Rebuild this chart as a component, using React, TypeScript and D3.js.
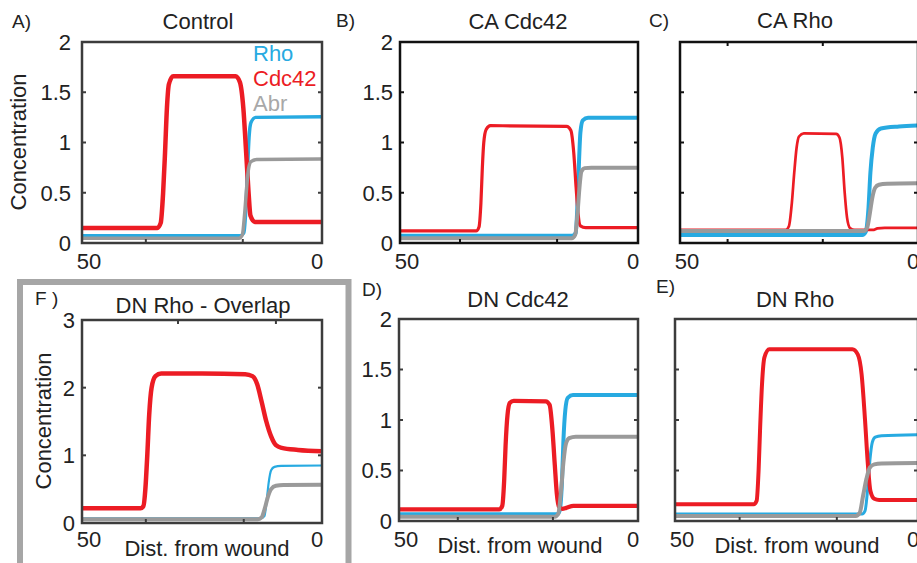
import React from 'react';
import * as d3 from 'd3';

const width = 917;
const height = 563;
const blue = '#27aae1';
const red = '#ec1c24';
const gray = '#9a9a9a';
const font = '"Liberation Sans", Arial, Helvetica, sans-serif';
const fs = 22;

type Pt = [number, number];

// Control
const rhoA: Pt[] = [[50, 0.073], [17.0, 0.073], [16.3, 0.1], [15.8, 0.4], [15.5, 0.75], [15.2, 1.05], [14.8, 1.2], [13.8, 1.25], [0, 1.255]];
const cdc42A: Pt[] = [[50, 0.15], [34.3, 0.15], [33.6, 0.2], [33.1, 0.5], [32.7, 0.9], [32.3, 1.35], [31.9, 1.58], [31.0, 1.66], [18.0, 1.66], [17.1, 1.6], [16.4, 1.35], [15.8, 0.9], [15.3, 0.5], [14.9, 0.27], [14.0, 0.21], [0, 0.21]];
const abrA: Pt[] = [[50, 0.047], [17.3, 0.047], [16.6, 0.08], [16.1, 0.3], [15.7, 0.55], [15.3, 0.74], [14.8, 0.81], [13.6, 0.83], [0, 0.835]];

// CA Cdc42
const rhoB: Pt[] = [[50, 0.073], [13.8, 0.073], [13.1, 0.1], [12.7, 0.4], [12.4, 0.8], [12.1, 1.1], [11.6, 1.22], [10.5, 1.247], [0, 1.247]];
const cdc42B: Pt[] = [[50, 0.12], [34.0, 0.12], [33.4, 0.16], [33.0, 0.4], [32.7, 0.75], [32.4, 1.0], [31.9, 1.13], [31.0, 1.167], [15.0, 1.16], [14.1, 1.12], [13.5, 0.9], [13.0, 0.55], [12.6, 0.3], [12.1, 0.17], [11.0, 0.152], [0, 0.152]];
const abrB: Pt[] = [[50, 0.047], [13.9, 0.047], [13.2, 0.08], [12.7, 0.3], [12.3, 0.55], [11.9, 0.71], [11.2, 0.745], [9.8, 0.75], [0, 0.75]];

// CA Rho
const rhoC: Pt[] = [[50, 0.08], [11.7, 0.08], [11.0, 0.11], [10.4, 0.35], [10.0, 0.7], [9.5, 0.95], [8.9, 1.09], [7.8, 1.14], [4, 1.16], [0, 1.17]];
const cdc42C: Pt[] = [[50, 0.13], [27.8, 0.13], [27.1, 0.17], [26.5, 0.4], [26.0, 0.7], [25.5, 0.95], [25.0, 1.06], [24.0, 1.09], [17.2, 1.085], [16.5, 1.05], [15.9, 0.85], [15.4, 0.5], [14.9, 0.25], [14.3, 0.15], [13.3, 0.13], [9.5, 0.13], [8.5, 0.145], [7, 0.15], [0, 0.15]];
const abrC: Pt[] = [[50, 0.12], [11.4, 0.12], [10.7, 0.15], [10.1, 0.3], [9.6, 0.45], [9.0, 0.55], [8.2, 0.58], [6.5, 0.59], [0, 0.595]];

// DN Cdc42
const rhoD: Pt[] = [[50, 0.066], [17.0, 0.066], [16.4, 0.1], [15.9, 0.4], [15.6, 0.8], [15.2, 1.1], [14.7, 1.22], [13.6, 1.247], [0, 1.247]];
const cdc42D: Pt[] = [[50, 0.116], [29.0, 0.116], [28.4, 0.15], [28.0, 0.4], [27.7, 0.75], [27.3, 1.05], [26.8, 1.17], [26.0, 1.19], [19.3, 1.185], [18.5, 1.15], [17.9, 0.9], [17.4, 0.55], [17.0, 0.28], [16.5, 0.14], [15.8, 0.12], [15.0, 0.13], [13.5, 0.149], [0, 0.149]];
const abrD: Pt[] = [[50, 0.043], [17.4, 0.043], [16.7, 0.07], [16.1, 0.3], [15.6, 0.58], [15.1, 0.76], [14.4, 0.82], [13.0, 0.835], [0, 0.835]];

// DN Rho
const rhoE: Pt[] = [[50, 0.07], [11.5, 0.07], [10.9, 0.1], [10.3, 0.35], [9.9, 0.6], [9.4, 0.78], [8.8, 0.83], [7.5, 0.845], [0, 0.855]];
const cdc42E: Pt[] = [[50, 0.165], [33.8, 0.165], [33.2, 0.2], [32.8, 0.5], [32.5, 0.9], [32.1, 1.35], [31.6, 1.62], [30.6, 1.7], [13.5, 1.7], [12.4, 1.65], [11.6, 1.45], [10.9, 1.0], [10.3, 0.55], [9.8, 0.3], [9.0, 0.22], [8.0, 0.208], [0, 0.208]];
const abrE: Pt[] = [[50, 0.05], [12.8, 0.05], [12.0, 0.08], [11.3, 0.25], [10.6, 0.42], [9.9, 0.53], [9.0, 0.56], [7.5, 0.57], [0, 0.575]];

// DN Rho - Overlap
const rhoF: Pt[] = [[50, 0.07], [12.6, 0.07], [12.0, 0.1], [11.5, 0.35], [11.1, 0.6], [10.6, 0.78], [9.9, 0.83], [8.5, 0.845], [0, 0.85]];
const cdc42F: Pt[] = [[50, 0.217], [37.8, 0.217], [37.2, 0.25], [36.8, 0.5], [36.4, 1.0], [36.0, 1.6], [35.5, 2.0], [34.7, 2.17], [33.5, 2.21], [25, 2.21], [16, 2.2], [14.5, 2.17], [13.5, 2.05], [12.6, 1.8], [11.6, 1.5], [10.6, 1.28], [9.6, 1.15], [8.4, 1.11], [5, 1.08], [0, 1.06]];
const abrF: Pt[] = [[50, 0.055], [13.4, 0.055], [12.6, 0.08], [11.9, 0.22], [11.3, 0.38], [10.6, 0.5], [9.6, 0.55], [8.0, 0.56], [0, 0.565]];

const yTicks2 = [0, 0.5, 1, 1.5, 2];
const yTicks3 = [0, 1, 2, 3];
const xLabels = [50, 0];
const legendNames = ['Rho', 'Cdc42', 'Abr'];

type PanelProps = {
  box: [number, number, number, number]; // left, right, top, bottom
  yMax: number;
  yTicks: number[];
  xTicks: number[];
  topTicks?: number[];
  title: string;
  titleX: number;
  titleY: number;
  letter: string;
  letterPos: [number, number];
  showY: boolean;
  yGap?: number;
  xLabelY: number;
  rho: Pt[];
  cdc42: Pt[];
  abr: Pt[];
  widths: [number, number, number];
  frame: string;
};

function Panel(p: PanelProps) {
  const [l, r, t, b] = p.box;
  const x = d3.scaleLinear().domain([50, 0]).range([l, r]);
  const y = d3.scaleLinear().domain([0, p.yMax]).range([b, t]);
  const line = d3.line<Pt>().x(d => x(d[0])).y(d => y(d[1])).curve(d3.curveMonotoneX);
  const tl = 4;
  const gap = p.yGap ?? 7;
  const id = p.letter.replace(/\W/g, '');
  return (
    <g>
      <defs>
        <clipPath id={`clip-${id}`}>
          <rect x={l} y={t - 3} width={r - l} height={b - t + 6} />
        </clipPath>
      </defs>
      <g clipPath={`url(#clip-${id})`} fill="none" strokeLinecap="round" strokeLinejoin="round">
        <path d={line(p.rho) || ''} stroke={blue} strokeWidth={p.widths[0]} />
        <path d={line(p.cdc42) || ''} stroke={red} strokeWidth={p.widths[1]} />
        <path d={line(p.abr) || ''} stroke={gray} strokeWidth={p.widths[2]} />
      </g>
      <rect x={l} y={t} width={r - l} height={b - t} fill="none" stroke={p.frame} strokeWidth={2.5} />
      {p.yTicks.map(v => (
        <g key={`y${v}`} stroke={p.frame} strokeWidth={2}>
          <line x1={l} x2={l + tl} y1={y(v)} y2={y(v)} />
          <line x1={r} x2={r - tl} y1={y(v)} y2={y(v)} />
        </g>
      ))}
      {p.xTicks.map(v => (
        <line key={`x${v}`} x1={x(v)} x2={x(v)} y1={b} y2={b - tl} stroke={p.frame} strokeWidth={2} />
      ))}
      {(p.topTicks || []).map(v => (
        <line key={`t${v}`} x1={x(v)} x2={x(v)} y1={t} y2={t + tl} stroke={p.frame} strokeWidth={2} />
      ))}
      {p.showY && p.yTicks.map(v => (
        <text key={`yl${v}`} x={l - gap} y={y(v)} dy="0.36em" textAnchor="end" fontSize={fs} fill="#222">
          {d3.format('~g')(v)}
        </text>
      ))}
      {xLabels.map(v => (
        <text key={`xl${v}`} x={x(v) + (v === 50 ? 7 : -5)} y={p.xLabelY} textAnchor="middle" fontSize={fs} fill="#222">
          {v}
        </text>
      ))}
      <text x={p.titleX} y={p.titleY} textAnchor="middle" fontSize={fs} fill="#222">
        {p.title}
      </text>
      <text x={p.letterPos[0]} y={p.letterPos[1]} fontSize={19} fill="#222">
        {p.letter}
      </text>
    </g>
  );
}

export default function App() {
  const dark = '#3c3c3c';
  const black = '#111';
  return (
    <svg width={width} height={height} style={{ position: 'absolute', left: 0, top: 0, background: '#fff' }} fontFamily={font}>
      <rect x={0} y={0} width={width} height={height} fill="#fff" />
      <rect x={20} y={282} width={328.5} height={320} fill="none" stroke="#a6a6a6" strokeWidth={6} />

      <Panel box={[82, 322, 42, 243]} yMax={2} yTicks={yTicks2} xTicks={[36.7, 16.5]} title="Control" titleX={198} titleY={29}
        letter="A)" letterPos={[12, 28]} showY yGap={11} xLabelY={269} rho={rhoA} cdc42={cdc42A} abr={abrA}
        widths={[3.5, 4.5, 3.5]} frame={dark} />
      <Panel box={[400, 638, 42, 243]} yMax={2} yTicks={yTicks2} xTicks={[37.4, 17.0]} title="CA Cdc42" titleX={518} titleY={29}
        letter="B)" letterPos={[336, 27]} showY xLabelY={269} rho={rhoB} cdc42={cdc42B} abr={abrB}
        widths={[4, 3.2, 4]} frame={black} />
      <Panel box={[680, 918, 42, 243]} yMax={2} yTicks={yTicks2} xTicks={[40, 20]} topTicks={[40, 20]} title="CA Rho" titleX={795} titleY={28}
        letter="C)" letterPos={[649, 27]} showY={false} xLabelY={269} rho={rhoC} cdc42={cdc42C} abr={abrC}
        widths={[4, 2.7, 4]} frame={black} />
      <Panel box={[82, 322, 320, 523]} yMax={3} yTicks={yTicks3} xTicks={[36.7, 16.3]} topTicks={[30, 9.6]} title="DN Rho - Overlap" titleX={203} titleY={313}
        letter="F )" letterPos={[35, 305]} showY xLabelY={547} rho={rhoF} cdc42={cdc42F} abr={abrF}
        widths={[2.2, 4.5, 4]} frame={dark} />
      <Panel box={[399, 638, 319, 521]} yMax={2} yTicks={yTicks2} xTicks={[37.7, 17.8]} title="DN Cdc42" titleX={518} titleY={307}
        letter="D)" letterPos={[362, 296]} showY xLabelY={547} rho={rhoD} cdc42={cdc42D} abr={abrD}
        widths={[4, 4.3, 4]} frame={dark} />
      <Panel box={[675, 918, 319, 521]} yMax={2} yTicks={yTicks2} xTicks={[36.7, 16.7]} title="DN Rho" titleX={795} titleY={307}
        letter="E)" letterPos={[656, 293]} showY={false} xLabelY={547} rho={rhoE} cdc42={cdc42E} abr={abrE}
        widths={[3, 4, 4]} frame={dark} />

      {/* legend in Control panel */}
      {legendNames.map((n, i) => (
        <text key={n} x={253} y={61 + i * 25} fontSize={fs} fill={[blue, red, '#a8a8a8'][i]}>{n}</text>
      ))}

      <text transform="translate(26,142) rotate(-90)" textAnchor="middle" fontSize={fs} fill="#222">Concentration</text>
      <text transform="translate(51,421) rotate(-90)" textAnchor="middle" fontSize={fs} fill="#222">Concentration</text>

      <text x={207} y={556} textAnchor="middle" fontSize={fs} fill="#222">Dist. from wound</text>
      <text x={520} y={553} textAnchor="middle" fontSize={fs} fill="#222">Dist. from wound</text>
      <text x={797} y={553} textAnchor="middle" fontSize={fs} fill="#222">Dist. from wound</text>
    </svg>
  );
}
